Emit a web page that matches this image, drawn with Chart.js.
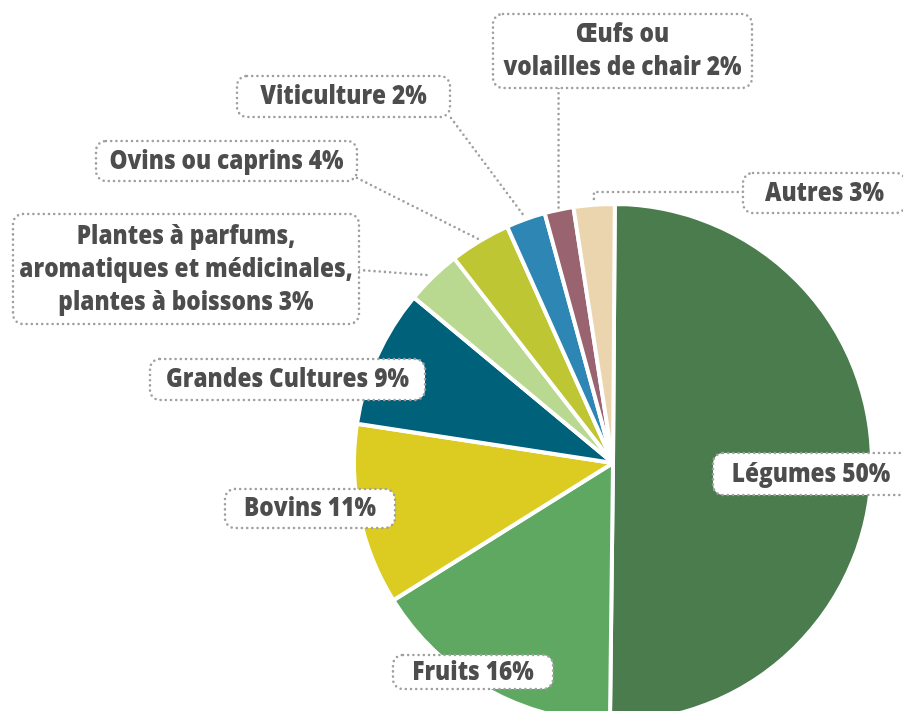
<!DOCTYPE html>
<html lang="fr">
<head>
<meta charset="utf-8">
<title>Répartition par production</title>
<script src="https://cdn.jsdelivr.net/npm/chart.js@4.4.0/dist/chart.umd.min.js"></script>
<style>
  html, body { margin: 0; padding: 0; background: #fff; overflow: hidden; }
  #wrap { width: 903px; height: 711px; overflow: hidden; }
</style>
</head>
<body>
<div id="wrap"><canvas id="pie" width="903" height="760"></canvas></div>
<script>
// Catégories dans le sens horaire, en partant de midi
const categories = [
  "Légumes",
  "Fruits",
  "Bovins",
  "Grandes Cultures",
  "Plantes à parfums,\naromatiques et médicinales,\nplantes à boissons",
  "Ovins ou caprins",
  "Viticulture",
  "Œufs ou\nvolailles de chair",
  "Autres"
];
// parts estimées sur l'image (les étiquettes affichent l'arrondi)
const values = [50, 15.9, 11.3, 8.6, 3.45, 3.8, 2.45, 1.8, 2.55];
const colors = ["#4b7c4e", "#5ea862", "#dccb21", "#00627a", "#b9d890", "#bfc634", "#2e86b5", "#9a6370", "#ebd5ae"];

// Boîtes des étiquettes [x, y, largeur, hauteur]
const boxes = [
  [713, 453, 196, 42],
  [393, 655, 160, 34],
  [225, 489, 170, 39],
  [150, 359, 275, 41],
  [13, 214, 346, 110],
  [96, 141, 261, 40],
  [237, 76, 213, 41],
  [493, 14, 259, 74],
  [743, 173, 163, 40]
];
// Traits de rappel : point de départ sur la boîte, l'autre bout vient de l'arc
const leaders = [null, null, null, null,
  { from: [359, 270] },
  { from: [357, 178] },
  { from: [451, 118] },
  { from: [0, 88], mode: "v" },
  { from: [743, 192], mode: "h" }
];

const FONT = '800 27px "Open Sans", sans-serif';
const TEXT_SX = 0.84; // police condensée simulée
const LINE_H = 33;

function dotted(ctx) {
  ctx.setLineDash([0, 5.2]);
  ctx.lineCap = "round";
  ctx.lineWidth = 2.6;
  ctx.strokeStyle = "#a0a0a0";
}

const labelPlugin = {
  id: "labels",
  afterDraw(chart) {
    const ctx = chart.ctx;
    const arcs = chart.getDatasetMeta(0).data;
    ctx.save();

    // traits de rappel
    arcs.forEach(function (arc, i) {
      const l = leaders[i];
      if (!l) return;
      const p = arc.getProps(["x", "y", "startAngle", "endAngle", "outerRadius"], true);
      const a = (p.startAngle + p.endAngle) / 2;
      const ex = p.x + Math.cos(a) * (p.outerRadius + 2);
      const ey = p.y + Math.sin(a) * (p.outerRadius + 2);
      dotted(ctx);
      ctx.beginPath();
      if (l.mode === "v") {
        ctx.moveTo(ex, l.from[1]);
        ctx.lineTo(ex, ey);
      } else if (l.mode === "h") {
        ctx.moveTo(l.from[0], l.from[1]);
        ctx.lineTo(ex, l.from[1]);
        ctx.lineTo(ex, ey);
      } else {
        ctx.moveTo(l.from[0], l.from[1]);
        ctx.lineTo(ex, ey);
      }
      ctx.stroke();
    });

    // boîtes et textes
    categories.forEach(function (name, i) {
      const b = boxes[i];
      ctx.setLineDash([]);
      ctx.fillStyle = "#ffffff";
      ctx.beginPath();
      ctx.roundRect(b[0], b[1], b[2], b[3], 10);
      ctx.fill();
      dotted(ctx);
      ctx.stroke();

      const lines = (name + " " + Math.round(values[i]) + "%").split("\n");
      ctx.font = FONT;
      ctx.fillStyle = "#4d4d4d";
      ctx.textAlign = "center";
      ctx.textBaseline = "middle";
      const cx = b[0] + b[2] / 2;
      const cy = b[1] + b[3] / 2;
      lines.forEach(function (t, k) {
        ctx.save();
        ctx.translate(cx, cy + (k - (lines.length - 1) / 2) * LINE_H);
        ctx.scale(TEXT_SX, 1);
        ctx.fillText(t, 0, 0);
        ctx.restore();
      });
    });
    ctx.restore();
  }
};

new Chart(document.getElementById("pie"), {
  type: "pie",
  data: {
    labels: categories,
    datasets: [{
      data: values,
      backgroundColor: colors,
      borderColor: "#ffffff",
      borderWidth: 4
    }]
  },
  options: {
    responsive: false,
    animation: false,
    rotation: 0.4,
    layout: { padding: { left: 352, top: 202, right: 29, bottom: 36 } },
    plugins: {
      legend: { display: false },
      tooltip: { enabled: false }
    }
  },
  plugins: [labelPlugin]
});
</script>
</body>
</html>
